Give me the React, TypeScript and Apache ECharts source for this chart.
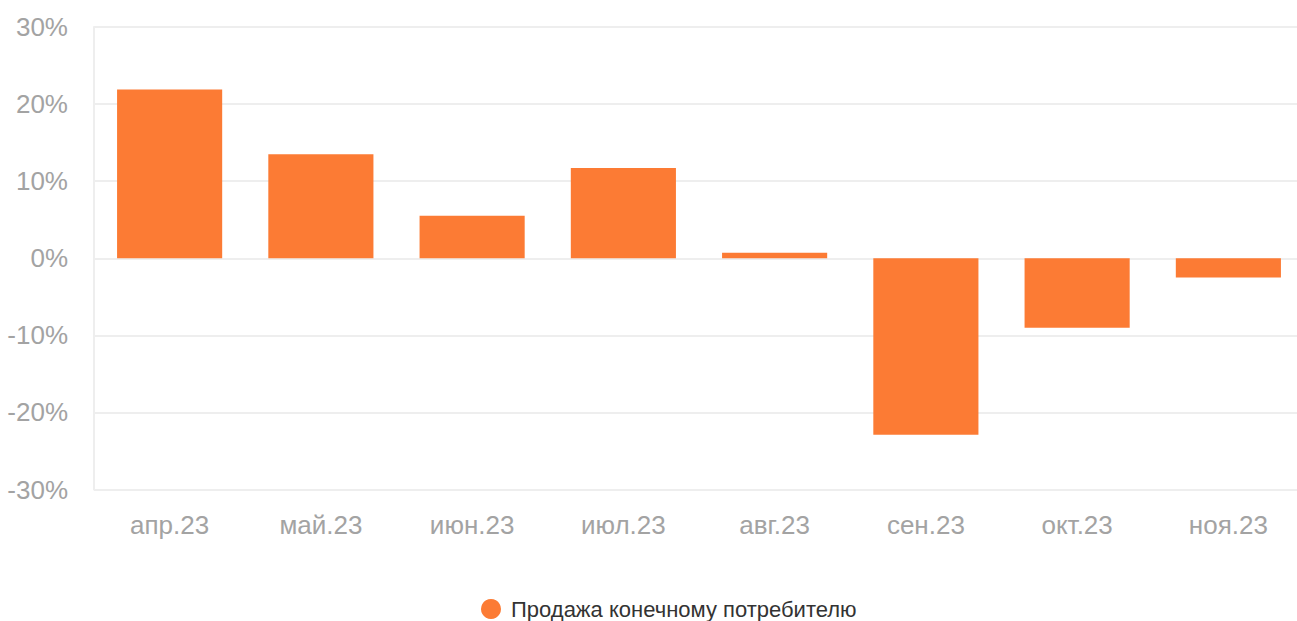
import React, { useEffect, useRef } from "react";
import * as echarts from "echarts";

const categories = ["апр.23", "май.23", "июн.23", "июл.23", "авг.23", "сен.23", "окт.23", "ноя.23"];
const values = [21.9, 13.5, 5.5, 11.7, 0.7, -22.9, -9.0, -2.5];
const seriesName = "Продажа конечному потребителю";

export default function App() {
  const ref = useRef<HTMLDivElement>(null);
  useEffect(() => {
    const chart = echarts.init(ref.current!, null, { renderer: "svg" });
    chart.setOption({
      animation: false,
      textStyle: { fontFamily: "Liberation Sans, Arial, Helvetica, sans-serif" },
      grid: { left: 94, right: 0, top: 27, bottom: 131.5, containLabel: false },
      legend: {
        top: 598,
        left: 481,
        padding: 0,
        icon: "circle",
        itemWidth: 20,
        itemHeight: 20,
        itemGap: 10,
        textStyle: { fontSize: 22, color: "#333", padding: [0, 0, 0, 5] },
        data: [seriesName],
      },
      xAxis: {
        type: "category",
        data: categories,
        axisLine: { show: false },
        axisTick: { show: false },
        axisLabel: { fontSize: 26, color: "#a3a3a3", margin: 22 },
      },
      yAxis: {
        type: "value",
        min: -30,
        max: 30,
        interval: 10,
        axisLine: { show: true, lineStyle: { color: "#eeeeee", width: 2 } },
        axisTick: { show: false },
        splitLine: { lineStyle: { color: "#eeeeee", width: 2 } },
        axisLabel: { fontSize: 26, color: "#a3a3a3", margin: 26, formatter: "{value}%" },
      },
      series: [
        {
          name: seriesName,
          type: "bar",
          data: values,
          barWidth: "69.5%",
          itemStyle: { color: "#FC7B34" },
        },
      ],
    });
    return () => chart.dispose();
  }, []);
  return (
    <div style={{ position: "absolute", left: 0, top: 0, width: 1297, height: 621, overflow: "hidden" }}>
      <div ref={ref} style={{ width: 1304, height: 621 }} />
    </div>
  );
}
